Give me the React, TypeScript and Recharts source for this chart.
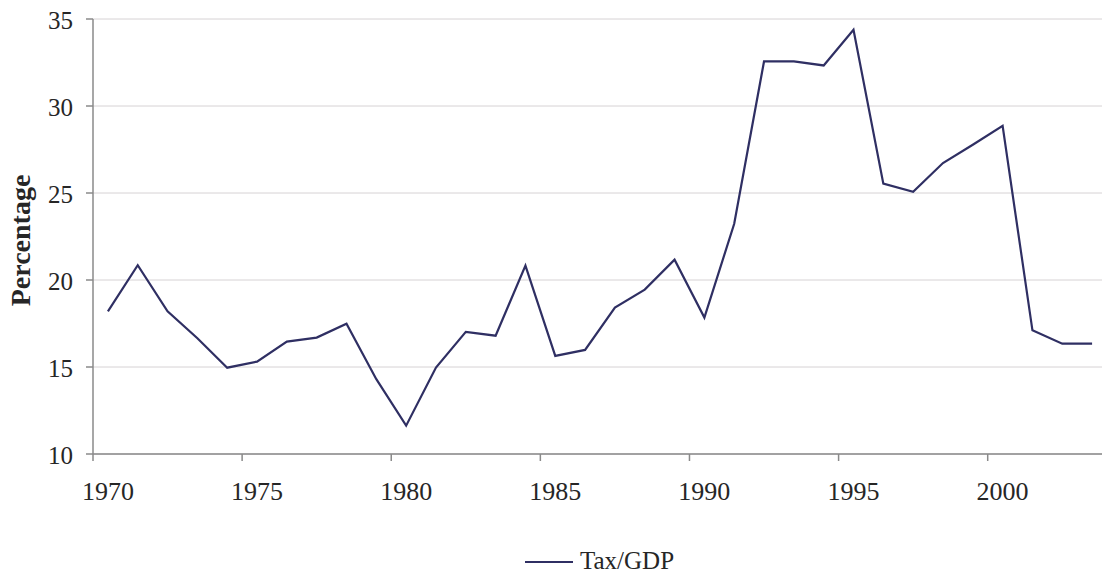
import React from 'react';
import { LineChart, Line, XAxis, YAxis, CartesianGrid, Legend } from 'recharts';

const years = [
  1970, 1971, 1972, 1973, 1974, 1975, 1976, 1977, 1978, 1979,
  1980, 1981, 1982, 1983, 1984, 1985, 1986, 1987, 1988, 1989,
  1990, 1991, 1992, 1993, 1994, 1995, 1996, 1997, 1998, 1999,
  2000, 2001, 2002, 2003,
];
const taxGdp = [
  18.2, 20.85, 18.2, 16.65, 14.96, 15.31, 16.46, 16.69, 17.49, 14.3,
  11.63, 14.97, 17.02, 16.8, 20.83, 15.64, 15.98, 18.41, 19.45, 21.17,
  17.84, 23.23, 32.56, 32.56, 32.33, 34.38, 25.54, 25.07, 26.72, 27.77,
  28.86, 17.11, 16.34, 16.34,
];
const yTicks = [10, 15, 20, 25, 30, 35];
const xLabelYears = [1970, 1975, 1980, 1985, 1990, 1995, 2000];
const seriesName = 'Tax/GDP';

const data = years.map((year, i) => ({ year, value: taxGdp[i] }));
const xTickPositions = xLabelYears.map((y) => y - 0.5);

const FONT = 'Liberation Serif';
const TEXT = '#262626';
const LINE = '#2f2f63';
const AXIS = '#8a8a8a';

const LegendContent = () => (
  <div style={{ height: 60, boxSizing: 'border-box', paddingTop: 34, position: 'relative' }}>
    <div style={{ display: 'flex', alignItems: 'center', height: 26, marginLeft: 525 }}>
      <svg width={49} height={10} style={{ display: 'block' }}>
        <line x1={0} y1={6} x2={48} y2={6} stroke={LINE} strokeWidth={2} />
      </svg>
      <span style={{ fontFamily: FONT, fontSize: 25, color: TEXT, marginLeft: 6, lineHeight: '26px' }}>
        {seriesName}
      </span>
    </div>
  </div>
);

export default function App() {
  return (
    <div style={{ position: 'absolute', left: 0, top: 0, width: 1102, height: 574, overflow: 'hidden', background: '#fff' }}>
      <LineChart width={1110} height={574} data={data} margin={{ top: 19, right: 3, left: 0, bottom: 0 }}>
        <CartesianGrid vertical={false} stroke="#d6d2d4" strokeWidth={1} />
        <XAxis
          dataKey="year"
          type="number"
          domain={[1969.5, 2003.5]}
          ticks={xTickPositions}
          interval={0}
          allowDataOverflow
          tickFormatter={(v: number) => String(v + 0.5)}
          tick={{ fill: TEXT, fontSize: 26, fontFamily: FONT, dx: 14.9 }}
          tickSize={7}
          tickMargin={21}
          height={60}
          axisLine={{ stroke: AXIS, strokeWidth: 1.5 }}
          tickLine={{ stroke: AXIS, strokeWidth: 1.5 }}
        />
        <YAxis
          type="number"
          domain={[10, 35]}
          ticks={yTicks}
          interval={0}
          width={93}
          tick={{ fill: TEXT, fontSize: 25, fontFamily: FONT, dy: 1.5 }}
          tickSize={7}
          tickMargin={13}
          axisLine={{ stroke: AXIS, strokeWidth: 1.5 }}
          tickLine={{ stroke: AXIS, strokeWidth: 1.5 }}
          label={{
            value: 'Percentage',
            position: 'center',
            angle: -90,
            dx: -26.5,
            dy: 4,
            style: { fill: TEXT, fontSize: 28, fontFamily: FONT, fontWeight: 'bold', textAnchor: 'middle' },
          }}
        />
        <Legend verticalAlign="bottom" content={<LegendContent />} />
        <Line
          type="linear"
          dataKey="value"
          name={seriesName}
          stroke={LINE}
          strokeWidth={2.2}
          dot={false}
          activeDot={false}
          isAnimationActive={false}
        />
      </LineChart>
    </div>
  );
}
